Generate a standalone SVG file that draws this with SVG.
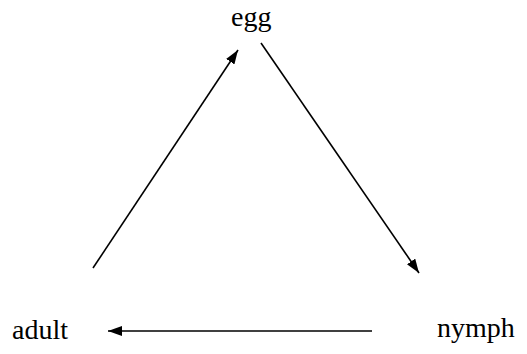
<svg xmlns="http://www.w3.org/2000/svg" width="527" height="354" viewBox="0 0 527 354">
<style>
.lbl{font-family:'Liberation Serif','DejaVu Serif',serif;font-size:28px;fill:#000}
.edge{stroke:#000;stroke-width:1.6;fill:none;marker-end:url(#ah)}
</style>
<defs>
<marker id="ah" markerUnits="userSpaceOnUse" markerWidth="15" markerHeight="11" refX="14" refY="5" orient="auto">
<path d="M0,0 L14,5 L0,10 z" fill="#000"/>
</marker>
</defs>
<rect width="527" height="354" fill="#fff"/>
<g id="connectors">
<line class="edge" x1="93" y1="268" x2="238" y2="50"/>
<line class="edge" x1="261" y1="43" x2="419" y2="273"/>
<line class="edge" x1="372" y1="331" x2="108" y2="331"/>
</g>
<g id="egg"><text class="lbl" x="231" y="26" font-family="Liberation Serif">egg</text></g>
<g id="nymph"><text class="lbl" x="437" y="337" font-family="Liberation Serif">nymph</text></g>
<g id="adult"><text class="lbl" x="12" y="339" font-family="Liberation Serif">adult</text></g>
</svg>
